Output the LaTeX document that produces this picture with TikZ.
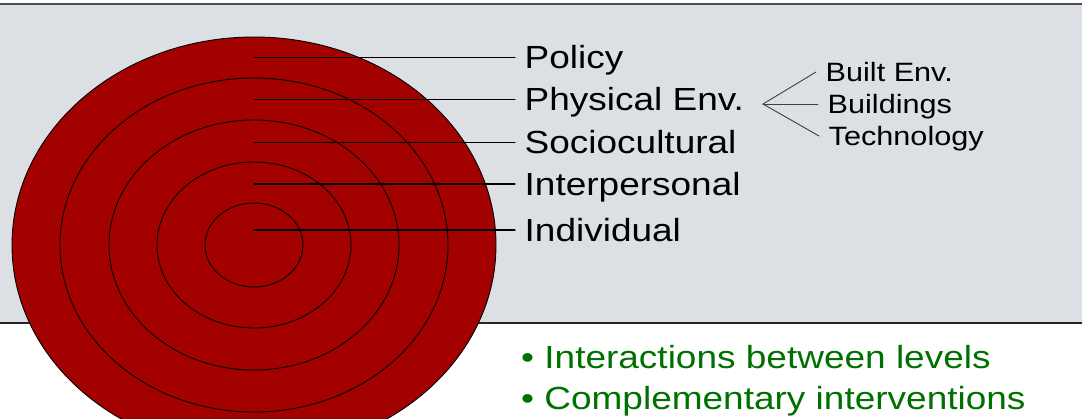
\documentclass[tikz,border=0pt]{standalone}
\usepackage{fontspec}
\setmainfont{Liberation Sans}[FakeStretch=1.156]
\usepackage{tikz}
\usetikzlibrary{positioning}
\definecolor{ringred}{RGB}{163,0,0}
\definecolor{panelgray}{RGB}{220,224,228}
\definecolor{pointgreen}{RGB}{0,112,0}

\begin{document}
\begin{tikzpicture}[line cap=round,line join=round,x=1pt,y=1pt,
  level/.style={anchor=west,inner xsep=9.5pt,inner ysep=0pt,text height=22pt,text depth=0pt,font=\fontsize{32}{38}\selectfont},
  sublevel/.style={anchor=west,inner xsep=9.5pt,inner ysep=0pt,text height=19pt,text depth=0pt,font=\fontsize{26.5}{32}\selectfont},
  point/.style={anchor=base west,inner sep=0pt,text=pointgreen,font=\fontsize{32}{38}\selectfont},
  ring/.style={draw=black,line width=0.9pt},
  leader/.style={draw=black,line width=1.1pt},
  fanline/.style={draw=black!75,line width=0.9pt}]
\useasboundingbox (0,0) rectangle (1082,-418);
\clip (0,0) rectangle (1082,-418);
\fill[panelgray] (0,-3.5) rectangle (1082,-323);
\draw[line width=2pt,black!70] (0,-3.5) -- (1082,-3.5);
\draw[line width=2pt,black!85] (0,-323) -- (1082,-323);
\coordinate (mid) at (254,-245);
\filldraw[fill=ringred,ring] (mid) ellipse [x radius=242,y radius=208];
\foreach \rx/\ry in {194/167,145/125,97/83,49/42}
  \draw[ring] (mid) ellipse [x radius=\rx,y radius=\ry];
\node[level] (pol) at (515,-57.3) {Policy};
\node[level] (phy) at (515,-99.3) {Physical Env.};
\node[level] (soc) at (515,-142.7) {Sociocultural};
\node[level] (int) at (515,-184) {Interpersonal};
\node[level] (ind) at (515,-230) {Individual};
\foreach \n in {pol,phy,soc,int,ind}
  \draw[leader] (\n.west) -- (\n.west -| mid);
\coordinate (fan) at (763,-104);
\node[sublevel] (blt) at (816,-72) {Built Env.};
\node[sublevel] (bld) at (818,-104) {Buildings};
\node[sublevel] (tec) at (819,-136) {Technology};
\foreach \n in {blt,bld,tec}
  \draw[fanline] (fan) -- (\n.west);
\node[point] (p1) at (521,-368) {• Interactions between levels};
\node[point] (p2) at (521,-409.5) {• Complementary interventions};
\end{tikzpicture}
\end{document}
